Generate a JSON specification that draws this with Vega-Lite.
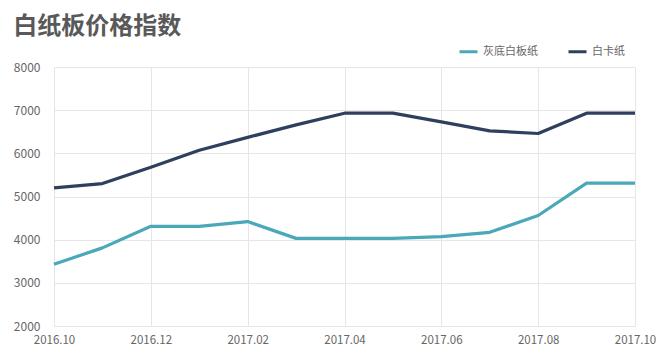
{
  "$schema": "https://vega.github.io/schema/vega-lite/v6.json",
  "width": 581,
  "height": 259,
  "autosize": {"type": "none"},
  "padding": {"left": 54, "top": 67, "right": 31, "bottom": 38},
  "background": "white",
  "title": {
    "text": "白纸板价格指数",
    "anchor": "start",
    "offset": 2,
    "fontSize": 24,
    "fontWeight": "bold",
    "font": "Noto Sans CJK SC",
    "color": "#595959"
  },
  "data": {
    "values": [
      {"month": "2016.10", "series": "灰底白板纸", "value": 3430},
      {"month": "2016.11", "series": "灰底白板纸", "value": 3810},
      {"month": "2016.12", "series": "灰底白板纸", "value": 4310},
      {"month": "2017.01", "series": "灰底白板纸", "value": 4310},
      {"month": "2017.02", "series": "灰底白板纸", "value": 4420},
      {"month": "2017.03", "series": "灰底白板纸", "value": 4030},
      {"month": "2017.04", "series": "灰底白板纸", "value": 4030},
      {"month": "2017.05", "series": "灰底白板纸", "value": 4030},
      {"month": "2017.06", "series": "灰底白板纸", "value": 4070},
      {"month": "2017.07", "series": "灰底白板纸", "value": 4170},
      {"month": "2017.08", "series": "灰底白板纸", "value": 4560},
      {"month": "2017.09", "series": "灰底白板纸", "value": 5310},
      {"month": "2017.10", "series": "灰底白板纸", "value": 5310},
      {"month": "2016.10", "series": "白卡纸", "value": 5200},
      {"month": "2016.11", "series": "白卡纸", "value": 5300},
      {"month": "2016.12", "series": "白卡纸", "value": 5680},
      {"month": "2017.01", "series": "白卡纸", "value": 6070},
      {"month": "2017.02", "series": "白卡纸", "value": 6370},
      {"month": "2017.03", "series": "白卡纸", "value": 6660},
      {"month": "2017.04", "series": "白卡纸", "value": 6930},
      {"month": "2017.05", "series": "白卡纸", "value": 6930},
      {"month": "2017.06", "series": "白卡纸", "value": 6730},
      {"month": "2017.07", "series": "白卡纸", "value": 6520},
      {"month": "2017.08", "series": "白卡纸", "value": 6460},
      {"month": "2017.09", "series": "白卡纸", "value": 6930},
      {"month": "2017.10", "series": "白卡纸", "value": 6930}
    ]
  },
  "mark": {"type": "line", "strokeWidth": 3.2, "strokeJoin": "round"},
  "encoding": {
    "x": {
      "field": "month",
      "type": "ordinal",
      "scale": {"type": "point", "padding": 0},
      "axis": {
        "title": null,
        "values": ["2016.10", "2016.12", "2017.02", "2017.04", "2017.06", "2017.08", "2017.10"],
        "labelAngle": 0,
        "labelFont": "Noto Sans CJK SC",
        "labelFontSize": 11.5,
        "labelColor": "#666666",
        "labelPadding": 8,
        "ticks": false,
        "domain": false,
        "grid": true,
        "gridColor": "#e6e6e6",
        "gridWidth": 1
      }
    },
    "y": {
      "field": "value",
      "type": "quantitative",
      "scale": {"domain": [2000, 8000], "nice": false},
      "axis": {
        "title": null,
        "format": "d",
        "values": [2000, 3000, 4000, 5000, 6000, 7000, 8000],
        "labelFont": "Noto Sans CJK SC",
        "labelFontSize": 12,
        "labelColor": "#666666",
        "labelPadding": 14,
        "ticks": false,
        "domain": false,
        "gridColor": "#e6e6e6",
        "gridWidth": 1
      }
    },
    "color": {
      "field": "series",
      "type": "nominal",
      "sort": ["灰底白板纸", "白卡纸"],
      "scale": {"domain": ["灰底白板纸", "白卡纸"], "range": ["#4aa8b8", "#2f3f5e"]},
      "legend": {
        "title": null,
        "orient": "none",
        "direction": "horizontal",
        "legendX": 404,
        "legendY": -26,
        "symbolType": "stroke",
        "symbolSize": 324,
        "symbolStrokeWidth": 3,
        "labelFont": "Noto Sans CJK SC",
        "labelFontSize": 11,
        "labelColor": "#666666",
        "columnPadding": 24,
        "labelOffset": 4
      }
    }
  },
  "config": {"view": {"stroke": null}}
}
